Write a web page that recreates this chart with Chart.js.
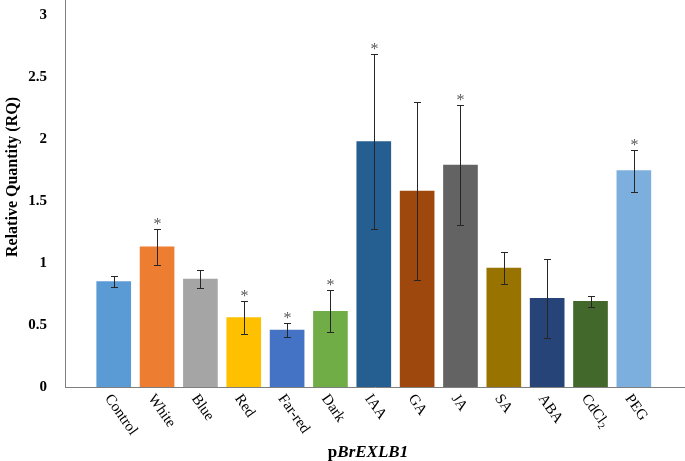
<!DOCTYPE html>
<html>
<head>
<meta charset="utf-8">
<script src="https://cdn.jsdelivr.net/npm/chart.js@4/dist/chart.umd.min.js"></script>
<style>
  html, body { margin: 0; padding: 0; background: #ffffff; }
  #wrap { width: 685px; height: 461px; position: relative; }
</style>
</head>
<body>
<div id="wrap"><canvas id="c" width="685" height="461"></canvas></div>
<script>
const categories = ["Control", "White", "Blue", "Red", "Far-red", "Dark", "IAA", "GA", "JA", "SA", "ABA", "CdCl2", "PEG"];
const values = [0.85, 1.13, 0.87, 0.56, 0.46, 0.61, 1.98, 1.58, 1.79, 0.96, 0.715, 0.69, 1.745];
const errors = [0.045, 0.145, 0.07, 0.135, 0.06, 0.17, 0.705, 0.72, 0.485, 0.13, 0.32, 0.045, 0.17];
const significant = [false, true, false, true, true, true, true, false, true, false, false, false, true];
const barColors = ["#5B9BD5", "#ED7D31", "#A5A5A5", "#FFC000", "#4472C4", "#70AD47", "#255E91", "#9E480E", "#636363", "#997300", "#264478", "#43682B", "#7CAFDD"];
const yTicks = [0, 0.5, 1, 1.5, 2, 2.5, 3];

const SERIF = '"Liberation Serif", "Times New Roman", serif';

const errorBarPlugin = {
  id: 'errorBars',
  afterDatasetsDraw(chart) {
    const ctx = chart.ctx;
    const xs = chart.scales.x, ys = chart.scales.y;
    ctx.save();
    ctx.strokeStyle = '#262626';
    ctx.lineWidth = 1;
    values.forEach((v, i) => {
      const x = Math.round(xs.getPixelForValue(i)) + 0.5;
      const yt = Math.round(ys.getPixelForValue(v + errors[i])) + 0.5;
      const yb = Math.round(ys.getPixelForValue(v - errors[i])) + 0.5;
      ctx.beginPath();
      ctx.moveTo(x, yt); ctx.lineTo(x, yb);
      ctx.moveTo(x - 3.5, yt); ctx.lineTo(x + 3.5, yt);
      ctx.moveTo(x - 3.5, yb); ctx.lineTo(x + 3.5, yb);
      ctx.stroke();
      if (significant[i]) {
        ctx.fillStyle = '#595959';
        ctx.font = '16px ' + SERIF;
        ctx.textAlign = 'center';
        ctx.textBaseline = 'alphabetic';
        ctx.fillText('*', x, yt - 1);
      }
    });
    ctx.restore();
  }
};

const labelsPlugin = {
  id: 'customLabels',
  afterDraw(chart) {
    const ctx = chart.ctx;
    const xs = chart.scales.x, ys = chart.scales.y;
    const base = ys.getPixelForValue(0);
    ctx.save();
    ctx.fillStyle = '#000000';
    categories.forEach((c, i) => {
      const x = xs.getPixelForValue(i);
      ctx.save();
      ctx.translate(x - 6, base + 9);
      ctx.rotate(55 * Math.PI / 180);
      ctx.textAlign = 'left';
      ctx.textBaseline = 'middle';
      ctx.font = '15px ' + SERIF;
      if (c === 'CdCl2') {
        ctx.fillText('CdCl', 0, 0);
        const w = ctx.measureText('CdCl').width;
        ctx.font = '10px ' + SERIF;
        ctx.fillText('2', w, 4);
      } else {
        ctx.fillText(c, 0, 0);
      }
      ctx.restore();
    });
    ctx.textBaseline = 'alphabetic';
    ctx.textAlign = 'left';
    ctx.font = 'bold 17px ' + SERIF;
    const p = 'p';
    const wp = ctx.measureText(p).width;
    ctx.font = 'italic bold 17px ' + SERIF;
    const rest = 'BrEXLB1';
    const wr = ctx.measureText(rest).width;
    const cx = 368;
    const startX = cx - (wp + wr) / 2;
    ctx.font = 'bold 17px ' + SERIF;
    ctx.fillText(p, startX, 457);
    ctx.font = 'italic bold 17px ' + SERIF;
    ctx.fillText(rest, startX + wp, 457);
    ctx.save();
    ctx.translate(13, 177);
    ctx.rotate(-Math.PI / 2);
    ctx.textAlign = 'center';
    ctx.textBaseline = 'middle';
    ctx.font = 'bold 16px ' + SERIF;
    ctx.fillText('Relative Quantity (RQ)', 0, 0);
    ctx.restore();
    ctx.restore();
  }
};

new Chart(document.getElementById('c'), {
  type: 'bar',
  data: {
    datasets: [{
      data: values.map((v, i) => ({ x: i, y: v })),
      backgroundColor: barColors,
      borderWidth: 0,
      barThickness: 34
    }]
  },
  options: {
    responsive: false,
    animation: false,
    events: [],
    layout: { padding: { top: 0, right: 0, left: 0, bottom: 0 } },
    plugins: { legend: { display: false }, tooltip: { enabled: false } },
    scales: {
      x: {
        type: 'linear',
        offset: false,
        min: -1.124,
        max: 13.18,
        grid: { display: false, drawTicks: false, offset: false },
        border: { display: true, color: '#7f7f7f', width: 1 },
        ticks: { display: false },
        afterFit(scale) { scale.height = 74; scale.paddingRight = 0; scale.paddingLeft = 0; }
      },
      y: {
        min: 0,
        max: 3.121,
        grid: { display: false, drawTicks: false },
        border: { display: true, color: '#7f7f7f', width: 1 },
        afterBuildTicks(scale) { scale.ticks = yTicks.map(v => ({ value: v })); },
        ticks: {
          padding: 18,
          color: '#000000',
          font: { family: SERIF, size: 15, weight: 'bold' },
          callback: (v) => String(v)
        },
        afterFit(scale) { scale.width = 65; scale.paddingTop = 0; scale.paddingBottom = 0; }
      }
    }
  },
  plugins: [errorBarPlugin, labelsPlugin]
});
</script>
</body>
</html>
